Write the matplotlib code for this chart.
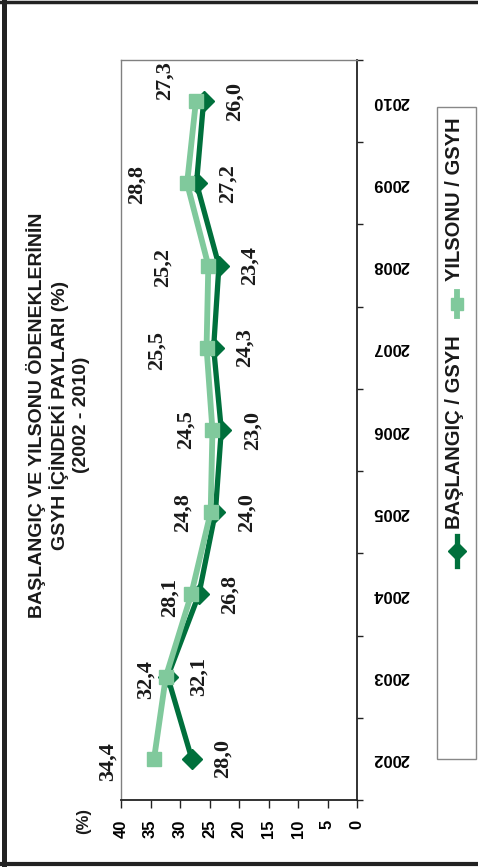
import matplotlib
matplotlib.use("Agg")
import matplotlib.pyplot as plt
from matplotlib.lines import Line2D
from matplotlib.patches import Rectangle

# ---- data ----
years = ["2002", "2003", "2004", "2005", "2006", "2007", "2008", "2009", "2010"]
baslangic = [28.0, 32.1, 26.8, 24.0, 23.0, 24.3, 23.4, 27.2, 26.0]
yilsonu = [34.4, 32.4, 28.1, 24.8, 24.5, 25.5, 25.2, 28.8, 27.3]
value_ticks = [0, 5, 10, 15, 20, 25, 30, 35, 40]
series_names = ["BAŞLANGIÇ / GSYH", "YILSONU / GSYH"]
title_lines = ["BAŞLANGIÇ VE YILSONU ÖDENEKLERİNİN", "GSYH İÇİNDEKİ PAYLARI (%)", "(2002 - 2010)"]

# ---- style ----
W, H = 478, 867
DARK = "#00703C"
LIGHT = "#80C99C"
SANS = ["Liberation Sans", "DejaVu Sans"]
SERIF = ["Liberation Serif", "DejaVu Serif"]
# label offsets in pixels (x right, y up)
lab_dx_b = [31] * 9
lab_dy_b = [0] * 9
lab_dx_y = [-46, -20, -21, -28, -27, -50, -46, -50, -31]
lab_dy_y = [-3, -3, -3, 0, 0, -3, -2, -1, 21]


def fx(x):
    return x / W


def fy(y):
    return 1 - y / H


fig = plt.figure(figsize=(W / 100, H / 100), dpi=100)
fig.patch.set_facecolor("white")

left, right, top, bottom = 121, 357, 60, 800
ax = fig.add_axes([fx(left), fy(bottom), (right - left) / W, (bottom - top) / H])

pos = list(range(len(years)))
ax.plot(baslangic, pos, color=DARK, lw=3.8, marker="D", ms=10.5,
        mfc=DARK, mec=DARK, zorder=3, clip_on=False)
ax.plot(yilsonu, pos, color=LIGHT, lw=4.2, marker="s", ms=10.5,
        mfc=LIGHT, mec=LIGHT, zorder=4, clip_on=False)

ax.set_xlim(40, 0)
ax.set_ylim(-0.5, len(years) - 0.5)

for i, v in enumerate(baslangic):
    ax.annotate(f"{v:.1f}".replace(".", ","), (v, i), xytext=(lab_dx_b[i], lab_dy_b[i]),
                textcoords="offset pixels", rotation=90, ha="center", va="center",
                fontsize=16, fontweight="bold", family=SERIF, color="#1a1a1a",
                annotation_clip=False, zorder=5)
for i, v in enumerate(yilsonu):
    ax.annotate(f"{v:.1f}".replace(".", ","), (v, i), xytext=(lab_dx_y[i], lab_dy_y[i]),
                textcoords="offset pixels", rotation=90, ha="center", va="center",
                fontsize=16, fontweight="bold", family=SERIF, color="#1a1a1a",
                annotation_clip=False, zorder=5)

# value axis (bottom)
ax.set_xticks(value_ticks)
ax.set_xticklabels([str(t) for t in value_ticks], rotation=90, fontsize=12,
                   fontweight="bold", family=SANS)
ax.tick_params(axis="x", direction="out", length=5.8, width=1, color="#222222", pad=8.5)

# category axis (right)
ax.yaxis.tick_right()
ax.set_yticks(pos)
ax.set_yticklabels(years, rotation=180, fontsize=12, fontweight="bold", family=SANS,
                   va="center")
ax.set_yticks([p - 0.5 for p in pos] + [pos[-1] + 0.5], minor=True)
ax.tick_params(axis="y", which="major", length=0, pad=11)
ax.tick_params(axis="y", which="minor", direction="out", length=4.3, width=1,
               color="#222222", right=True, left=False)

for s in ["left", "top"]:
    ax.spines[s].set_color("#808080")
    ax.spines[s].set_linewidth(1.0)
for s in ["bottom", "right"]:
    ax.spines[s].set_color("#222222")
    ax.spines[s].set_linewidth(1.3)

# (%) label
fig.text(fx(84), fy(821), "(%)", rotation=90, ha="center", va="center",
         fontsize=12, fontweight="bold", family=SANS, color="#1a1a1a")

# title
for xc, line in zip([36, 59, 81], title_lines):
    fig.text(fx(xc), fy(415), line, rotation=90, ha="center", va="center",
             fontsize=14, fontweight="bold", family=SANS, color="#1a1a1a")

# legend box
fig.add_artist(Rectangle((fx(437), fy(759)), (476 - 437) / W, (759 - 107) / H,
                         transform=fig.transFigure, fill=False, edgecolor="#888888",
                         lw=1.0))
# BAŞLANGIÇ entry
fig.add_artist(Line2D([fx(457), fx(457)], [fy(566), fy(536)], transform=fig.transFigure,
                      color=DARK, lw=3.8))
fig.add_artist(Line2D([fx(457)], [fy(551)], transform=fig.transFigure, color=DARK,
                      marker="D", ms=9, lw=0))
fig.text(fx(455), fy(335) , series_names[0], rotation=90, ha="center", va="top",
         fontsize=14.5, fontweight="bold", family=SANS, color="#1a1a1a")
# YILSONU entry
fig.add_artist(Line2D([fx(457), fx(457)], [fy(316), fy(292)], transform=fig.transFigure,
                      color=LIGHT, lw=4.2))
fig.add_artist(Line2D([fx(457)], [fy(304)], transform=fig.transFigure, color=LIGHT,
                      marker="s", ms=9, lw=0))
fig.text(fx(455), fy(117), series_names[1], rotation=90, ha="center", va="top",
         fontsize=14.5, fontweight="bold", family=SANS, color="#1a1a1a")

# frame border
fig.add_artist(Line2D([fx(0), fx(W)], [fy(1.7), fy(1.7)], transform=fig.transFigure,
                      color="#222222", lw=2.5))
fig.add_artist(Line2D([fx(4.2), fx(4.2)], [fy(0), fy(865)], transform=fig.transFigure,
                      color="#222222", lw=3.6))
fig.add_artist(Line2D([fx(2), fx(W)], [fy(863.5), fy(863.5)], transform=fig.transFigure,
                      color="#222222", lw=3.0))

fig.savefig("out.png", dpi=100)
